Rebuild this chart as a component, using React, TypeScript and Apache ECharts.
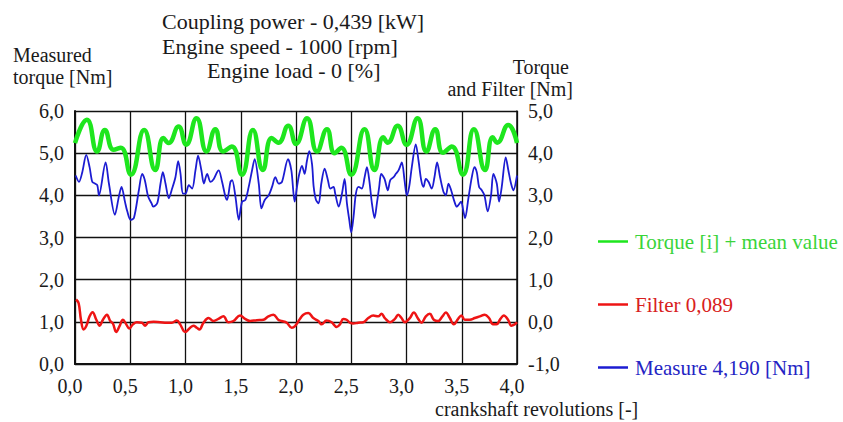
import React, { useEffect, useRef } from "react";
import * as echarts from "echarts";

// ---- Data ----
// Torque [i] + mean value (right axis, Nm)
const torqueRev = [0, 0.108, 0.2, 0.27, 0.35, 0.415, 0.506, 0.626, 0.726, 0.8, 0.846, 0.937, 1.006, 1.1, 1.19, 1.27, 1.34, 1.42, 1.51, 1.61, 1.7, 1.78, 1.84, 1.93, 2.0, 2.1, 2.19, 2.28, 2.35, 2.41, 2.5, 2.62, 2.71, 2.79, 2.83, 2.92, 3.0, 3.1, 3.18, 3.26, 3.33, 3.41, 3.51, 3.61, 3.71, 3.78, 3.82, 3.92, 4.0];
const torqueVal = [4.24, 4.79, 4.04, 4.55, 4.08, 4.13, 3.49, 4.55, 3.6, 4.36, 4.24, 4.63, 4.2, 4.83, 4.04, 4.57, 4.04, 4.16, 3.49, 4.55, 3.6, 4.36, 4.25, 4.65, 4.22, 4.83, 4.04, 4.57, 4.0, 4.13, 3.49, 4.57, 3.6, 4.38, 4.25, 4.65, 4.2, 4.83, 4.04, 4.57, 4.01, 4.16, 3.49, 4.57, 3.6, 4.38, 4.25, 4.67, 4.24];

// Filter 0,089 (right axis, Nm)
const filterRev = [0.01, 0.033, 0.054, 0.078, 0.102, 0.132, 0.159, 0.193, 0.223, 0.253, 0.289, 0.319, 0.343, 0.373, 0.403, 0.434, 0.464, 0.491, 0.524, 0.56, 0.605, 0.635, 0.665, 0.711, 0.771, 0.831, 0.876, 0.922, 0.952, 0.997, 1.042, 1.072, 1.102, 1.126, 1.163, 1.208, 1.253, 1.298, 1.343, 1.388, 1.434, 1.494, 1.539, 1.584, 1.645, 1.705, 1.75, 1.795, 1.84, 1.87, 1.916, 1.961, 1.991, 2.036, 2.066, 2.111, 2.157, 2.202, 2.232, 2.277, 2.322, 2.368, 2.398, 2.428, 2.458, 2.488, 2.518, 2.563, 2.609, 2.654, 2.699, 2.744, 2.774, 2.804, 2.85, 2.895, 2.925, 2.955, 2.985, 3.03, 3.066, 3.106, 3.136, 3.175, 3.211, 3.247, 3.286, 3.325, 3.356, 3.392, 3.428, 3.467, 3.497, 3.527, 3.573, 3.618, 3.663, 3.708, 3.747, 3.783, 3.814, 3.85, 3.88, 3.919, 3.949, 3.979, 4.0];
const filterVal = [0.53, 0.44, 0.05, -0.18, -0.1, 0.13, 0.23, 0.05, -0.09, 0.05, 0.17, 0.02, -0.04, -0.24, -0.1, 0.05, -0.06, -0.16, -0.06, -0.01, -0.02, -0.09, -0.01, 0, -0.01, -0.02, -0.02, 0.03, -0.06, -0.24, -0.14, -0.09, -0.14, -0.18, -0.02, 0.09, 0.02, 0.07, 0.13, -0.01, 0.02, 0.15, 0.07, 0.02, 0.04, 0.05, 0.13, 0.17, 0.05, 0.02, -0.02, -0.14, -0.1, 0.07, 0.17, 0.21, 0.09, 0.02, -0.06, 0.03, -0.01, -0.12, -0.06, 0.07, 0.05, -0.02, -0.04, -0.02, -0.01, 0.09, 0.15, 0.13, 0.19, 0.09, -0.01, 0.07, 0.17, 0.09, -0.01, 0.09, 0.22, 0.07, -0.02, 0.13, 0.19, 0.05, 0.02, 0.13, 0.22, 0.09, -0.06, 0.07, 0.15, 0.05, 0.05, 0.09, 0.13, 0.17, 0.09, -0.06, -0.06, 0.07, 0.15, 0.05, -0.09, -0.06, -0.01];

// Measure 4,190 [Nm] (left axis)
const measureRev = [0.006, 0.036, 0.066, 0.102, 0.132, 0.156, 0.18, 0.202, 0.217, 0.277, 0.307, 0.361, 0.397, 0.421, 0.452, 0.473, 0.503, 0.533, 0.578, 0.608, 0.632, 0.662, 0.693, 0.708, 0.744, 0.774, 0.795, 0.819, 0.849, 0.879, 0.909, 0.934, 0.955, 0.976, 1.0, 1.03, 1.06, 1.09, 1.114, 1.144, 1.166, 1.196, 1.226, 1.256, 1.286, 1.301, 1.331, 1.361, 1.376, 1.407, 1.422, 1.452, 1.482, 1.512, 1.542, 1.572, 1.602, 1.626, 1.663, 1.687, 1.717, 1.753, 1.783, 1.813, 1.843, 1.873, 1.928, 1.958, 1.988, 2.009, 2.03, 2.054, 2.078, 2.099, 2.12, 2.145, 2.16, 2.181, 2.205, 2.229, 2.259, 2.289, 2.31, 2.34, 2.355, 2.386, 2.416, 2.44, 2.461, 2.482, 2.5, 2.521, 2.542, 2.566, 2.596, 2.621, 2.642, 2.663, 2.687, 2.711, 2.732, 2.753, 2.771, 2.801, 2.831, 2.853, 2.883, 2.904, 2.928, 2.958, 2.982, 3.003, 3.024, 3.048, 3.084, 3.109, 3.133, 3.154, 3.175, 3.199, 3.229, 3.253, 3.277, 3.304, 3.335, 3.356, 3.38, 3.404, 3.434, 3.455, 3.47, 3.494, 3.515, 3.53, 3.56, 3.591, 3.615, 3.636, 3.657, 3.681, 3.705, 3.735, 3.765, 3.786, 3.817, 3.838, 3.862, 3.898, 3.922, 3.946, 3.967, 4.0];
const measureVal = [4.47, 4.32, 4.55, 4.96, 4.67, 4.32, 4.28, 4.24, 4.0, 4.78, 4.28, 3.54, 3.97, 4.2, 3.85, 3.62, 3.42, 3.46, 4.12, 4.51, 4.36, 3.97, 3.81, 3.73, 3.81, 4.28, 4.55, 4.28, 3.93, 4.16, 4.43, 4.81, 4.51, 4.04, 4.04, 4.24, 4.16, 4.59, 4.94, 4.59, 4.28, 4.51, 4.32, 4.39, 4.55, 4.59, 4.32, 3.97, 3.89, 4.32, 4.36, 3.97, 3.42, 3.85, 3.89, 4.2, 4.59, 4.86, 4.28, 3.69, 3.89, 4.0, 4.2, 4.43, 4.28, 4.32, 4.86, 4.59, 3.85, 4.2, 4.51, 4.7, 4.51, 4.82, 5.05, 4.74, 4.2, 3.89, 3.81, 4.28, 4.63, 4.36, 4.16, 4.2, 4.04, 3.73, 4.04, 4.39, 3.81, 3.42, 3.12, 3.5, 4.04, 4.2, 4.16, 4.43, 4.67, 4.36, 3.81, 3.46, 3.81, 4.2, 4.51, 4.39, 4.12, 4.36, 4.43, 4.51, 4.59, 4.78, 4.36, 4.0, 4.2, 4.67, 5.21, 4.82, 4.36, 4.2, 4.39, 4.32, 4.16, 4.43, 4.78, 4.43, 4.08, 4.0, 4.28, 4.12, 3.85, 3.73, 3.77, 3.85, 3.62, 3.46, 3.93, 4.43, 4.67, 4.55, 4.2, 4.12, 4.0, 3.62, 4.0, 4.51, 4.28, 3.85, 4.2, 4.9, 4.59, 4.28, 4.12, 4.47];

const titleLines = ["Coupling power - 0,439 [kW]", "Engine speed - 1000 [rpm]", "Engine load - 0 [%]"];
const seriesNames = ["Torque [i] + mean value", "Filter 0,089", "Measure 4,190 [Nm]"];
const leftAxisName = ["Measured", "torque [Nm]"];
const rightAxisName = ["Torque", "and Filter [Nm]"];
const xAxisName = "crankshaft revolutions [-]";

const FONT = "'Liberation Serif', 'Times New Roman', serif";
const GREEN = "#1ee61e";
const RED = "#ee1414";
const BLUE = "#1c1cd2";

const fmt = (v: number) => v.toFixed(1).replace(".", ",");
const pairs = (xs: number[], ys: number[]) => xs.map((x, i) => [x, ys[i]]);

export default function App() {
  const ref = useRef<HTMLDivElement>(null);
  useEffect(() => {
    document.body.style.margin = "0";
    const chart = echarts.init(ref.current!, null, { renderer: "svg" });
    const txt = (text: string, x: number, y: number, size: number, align: string, fill = "#1a1a1a") => ({
      type: "text",
      x,
      y,
      silent: true,
      style: {
        text,
        fill,
        font: `${size}px ${FONT}`,
        textAlign: align,
        textVerticalAlign: "middle",
        align,
        verticalAlign: "middle",
      },
    });
    chart.setOption({
      animation: false,
      backgroundColor: "#ffffff",
      textStyle: { fontFamily: FONT },
      grid: { left: 75, top: 111, right: 326, bottom: 58, containLabel: false },
      xAxis: {
        type: "value",
        min: 0,
        max: 4,
        interval: 0.5,
        axisLine: { show: true, lineStyle: { color: "#111", width: 2 } },
        axisTick: { show: false },
        axisLabel: { margin: 12, fontSize: 20, color: "#1a1a1a", fontFamily: FONT, formatter: fmt, padding: [0, 10, 0, 0] },
        splitLine: { show: true, lineStyle: { color: "#111", width: 1.3 } },
      },
      yAxis: [
        {
          type: "value",
          min: 0,
          max: 6,
          interval: 1,
          position: "left",
          axisLine: { show: true, lineStyle: { color: "#111", width: 2 } },
          axisTick: { show: false },
          axisLabel: { margin: 11, fontSize: 20, color: "#1a1a1a", fontFamily: FONT, formatter: fmt },
          splitLine: { show: true, lineStyle: { color: "#111", width: 1.3 } },
        },
        {
          type: "value",
          min: -1,
          max: 5,
          interval: 1,
          position: "right",
          axisLine: { show: true, lineStyle: { color: "#111", width: 1.5 } },
          axisTick: { show: false },
          axisLabel: { margin: 11, fontSize: 20, color: "#1a1a1a", fontFamily: FONT, formatter: fmt },
          splitLine: { show: false },
        },
      ],
      legend: {
        orient: "vertical",
        left: 593,
        top: 226,
        itemGap: 42,
        itemWidth: 30,
        itemHeight: 2.5,
        icon: "rect",
        selectedMode: false,
        textStyle: { fontSize: 21, fontFamily: FONT, padding: [0, 0, 0, 2] },
        data: [
          { name: seriesNames[0], textStyle: { color: "#3ad43a" } },
          { name: seriesNames[1], textStyle: { color: "#d82020" } },
          { name: seriesNames[2], textStyle: { color: "#2424c4" } },
        ],
      },
      graphic: [
        txt(titleLines[0], 162, 21, 22, "left"),
        txt(titleLines[1], 162, 46, 22, "left"),
        txt(titleLines[2], 207, 70, 22, "left"),
        txt(leftAxisName[0], 13, 55, 20, "left"),
        txt(leftAxisName[1], 13, 76.5, 20, "left"),
        txt(rightAxisName[0], 569, 66.5, 20, "right"),
        txt(rightAxisName[1], 573, 89, 20, "right"),
        txt(xAxisName, 435, 408.5, 20, "left"),
      ],
      series: [
        {
          name: seriesNames[0],
          type: "line",
          yAxisIndex: 1,
          data: pairs(torqueRev, torqueVal),
          smooth: 0.5,
          showSymbol: false,
          color: GREEN,
          lineStyle: { color: GREEN, width: 4.5 },
          z: 3,
        },
        {
          name: seriesNames[1],
          type: "line",
          yAxisIndex: 1,
          data: pairs(filterRev, filterVal),
          smooth: 0.4,
          showSymbol: false,
          color: RED,
          lineStyle: { color: RED, width: 2.5 },
          z: 3,
        },
        {
          name: seriesNames[2],
          type: "line",
          yAxisIndex: 0,
          data: pairs(measureRev, measureVal),
          smooth: 0.3,
          showSymbol: false,
          color: BLUE,
          lineStyle: { color: BLUE, width: 1.8 },
          z: 2,
        },
      ],
    });
    return () => chart.dispose();
  }, []);
  return <div ref={ref} style={{ width: 843, height: 422, background: "#fff" }} />;
}
